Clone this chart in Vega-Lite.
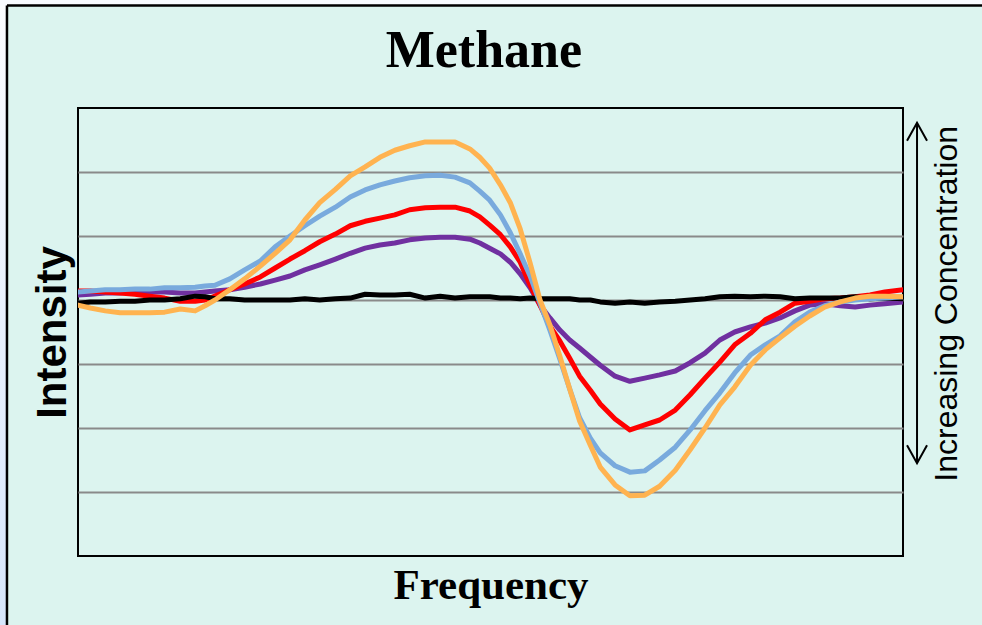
{
"$schema": "https://vega.github.io/schema/vega-lite/v6.json",
"width": 825,
"height": 448,
"autosize": {"type": "none"},
"padding": {"left": 78, "top": 108, "right": 79, "bottom": 69},
"background": "#dcf4ef",
"config": {"view": {"stroke": "#000000", "strokeWidth": 2, "fill": "#dcf4ef"}},
"datasets": {
"spectra": [
{"s":"purple","f":0,"v":0.8},{"s":"purple","f":1.5,"v":0.9},{"s":"purple","f":3.3,"v":1.1},{"s":"purple","f":5.1,"v":1.1},{"s":"purple","f":6.9,"v":1.25},{"s":"purple","f":8.7,"v":1.25},{"s":"purple","f":10.5,"v":1.25},{"s":"purple","f":12.4,"v":1.1},{"s":"purple","f":14.2,"v":1.1},{"s":"purple","f":15.4,"v":1.25},{"s":"purple","f":16.6,"v":1.4},{"s":"purple","f":18.4,"v":1.6},{"s":"purple","f":20.2,"v":2.0},{"s":"purple","f":22.1,"v":2.5},{"s":"purple","f":23.9,"v":3.1},{"s":"purple","f":25.7,"v":3.75},{"s":"purple","f":27.5,"v":4.7},{"s":"purple","f":29.3,"v":5.5},{"s":"purple","f":31.2,"v":6.4},{"s":"purple","f":33,"v":7.3},{"s":"purple","f":34.8,"v":8.1},{"s":"purple","f":36.6,"v":8.6},{"s":"purple","f":38.4,"v":8.9},{"s":"purple","f":40.2,"v":9.4},{"s":"purple","f":42.1,"v":9.7},{"s":"purple","f":43.9,"v":9.8},{"s":"purple","f":45.7,"v":9.8},{"s":"purple","f":47.5,"v":9.5},{"s":"purple","f":48.7,"v":8.9},{"s":"purple","f":49.9,"v":8.1},{"s":"purple","f":51.2,"v":7.2},{"s":"purple","f":52.4,"v":5.9},{"s":"purple","f":53.6,"v":4.1},{"s":"purple","f":54.8,"v":1.9},{"s":"purple","f":56,"v":-0.8},{"s":"purple","f":57.2,"v":-2.8},{"s":"purple","f":58.4,"v":-4.7},{"s":"purple","f":59.6,"v":-6.25},{"s":"purple","f":60.8,"v":-7.5},{"s":"purple","f":62.1,"v":-8.9},{"s":"purple","f":63.3,"v":-10.2},{"s":"purple","f":65.1,"v":-11.9},{"s":"purple","f":66.9,"v":-12.7},{"s":"purple","f":68.7,"v":-12.2},{"s":"purple","f":70.5,"v":-11.7},{"s":"purple","f":72.4,"v":-11.1},{"s":"purple","f":74.2,"v":-9.8},{"s":"purple","f":76,"v":-8.3},{"s":"purple","f":77.8,"v":-6.25},{"s":"purple","f":79.6,"v":-5.0},{"s":"purple","f":81.5,"v":-4.2},{"s":"purple","f":83.3,"v":-3.6},{"s":"purple","f":85.1,"v":-2.8},{"s":"purple","f":86.9,"v":-1.7},{"s":"purple","f":88.7,"v":-0.8},{"s":"purple","f":90.5,"v":-0.6},{"s":"purple","f":92.4,"v":-0.9},{"s":"purple","f":94.2,"v":-1.1},{"s":"purple","f":96,"v":-0.8},{"s":"purple","f":97.8,"v":-0.6},{"s":"purple","f":100,"v":-0.3},
{"s":"red","f":0,"v":1.4},{"s":"red","f":1.5,"v":1.4},{"s":"red","f":3.3,"v":1.25},{"s":"red","f":5.1,"v":1.1},{"s":"red","f":6.9,"v":0.9},{"s":"red","f":8.7,"v":0.6},{"s":"red","f":10.5,"v":0.3},{"s":"red","f":12.4,"v":-0.2},{"s":"red","f":14.2,"v":-0.2},{"s":"red","f":15.4,"v":0},{"s":"red","f":16.6,"v":0.6},{"s":"red","f":18.4,"v":1.6},{"s":"red","f":20.2,"v":2.5},{"s":"red","f":22.1,"v":3.6},{"s":"red","f":23.9,"v":5.0},{"s":"red","f":25.7,"v":6.4},{"s":"red","f":27.5,"v":7.7},{"s":"red","f":29.3,"v":9.1},{"s":"red","f":31.2,"v":10.3},{"s":"red","f":33,"v":11.6},{"s":"red","f":34.8,"v":12.3},{"s":"red","f":36.6,"v":12.8},{"s":"red","f":38.4,"v":13.3},{"s":"red","f":40.2,"v":14.1},{"s":"red","f":42.1,"v":14.4},{"s":"red","f":43.9,"v":14.5},{"s":"red","f":45.7,"v":14.5},{"s":"red","f":47.5,"v":13.9},{"s":"red","f":48.7,"v":13.0},{"s":"red","f":49.9,"v":11.7},{"s":"red","f":51.2,"v":10.2},{"s":"red","f":52.4,"v":8.3},{"s":"red","f":53.6,"v":5.9},{"s":"red","f":54.8,"v":2.3},{"s":"red","f":56,"v":-0.8},{"s":"red","f":57.2,"v":-4.1},{"s":"red","f":58.4,"v":-6.4},{"s":"red","f":59.6,"v":-9.1},{"s":"red","f":60.8,"v":-11.9},{"s":"red","f":62.1,"v":-14.1},{"s":"red","f":63.3,"v":-16.25},{"s":"red","f":65.1,"v":-18.6},{"s":"red","f":66.9,"v":-20.3},{"s":"red","f":68.7,"v":-19.5},{"s":"red","f":70.5,"v":-18.75},{"s":"red","f":72.4,"v":-17.2},{"s":"red","f":74.2,"v":-14.8},{"s":"red","f":76,"v":-12.2},{"s":"red","f":77.8,"v":-9.7},{"s":"red","f":79.6,"v":-7.0},{"s":"red","f":81.5,"v":-5.2},{"s":"red","f":83.3,"v":-3.1},{"s":"red","f":85.1,"v":-1.9},{"s":"red","f":86.9,"v":-0.5},{"s":"red","f":88.7,"v":-0.2},{"s":"red","f":90.5,"v":0.2},{"s":"red","f":92.4,"v":0.3},{"s":"red","f":94.2,"v":0.5},{"s":"red","f":96,"v":0.8},{"s":"red","f":97.8,"v":1.25},{"s":"red","f":100,"v":1.6},
{"s":"black","f":0,"v":-0.5},{"s":"black","f":1.5,"v":-0.3},{"s":"black","f":3.3,"v":-0.3},{"s":"black","f":5.1,"v":-0.2},{"s":"black","f":6.9,"v":-0.2},{"s":"black","f":8.7,"v":0},{"s":"black","f":10.5,"v":0},{"s":"black","f":12.4,"v":0.2},{"s":"black","f":14.2,"v":0.6},{"s":"black","f":15.4,"v":0.5},{"s":"black","f":16.6,"v":0.2},{"s":"black","f":18.4,"v":0.2},{"s":"black","f":20.2,"v":0},{"s":"black","f":22.1,"v":0},{"s":"black","f":23.9,"v":0},{"s":"black","f":25.7,"v":0},{"s":"black","f":27.5,"v":0.2},{"s":"black","f":29.3,"v":0},{"s":"black","f":31.2,"v":0.2},{"s":"black","f":33,"v":0.3},{"s":"black","f":34.8,"v":0.9},{"s":"black","f":36.6,"v":0.8},{"s":"black","f":38.4,"v":0.8},{"s":"black","f":40.2,"v":0.9},{"s":"black","f":42.1,"v":0.3},{"s":"black","f":43.9,"v":0.6},{"s":"black","f":45.7,"v":0.3},{"s":"black","f":47.5,"v":0.5},{"s":"black","f":48.7,"v":0.5},{"s":"black","f":49.9,"v":0.5},{"s":"black","f":51.2,"v":0.3},{"s":"black","f":52.4,"v":0.3},{"s":"black","f":53.6,"v":0.2},{"s":"black","f":54.8,"v":0.3},{"s":"black","f":56,"v":0.2},{"s":"black","f":57.2,"v":0.2},{"s":"black","f":58.4,"v":0.2},{"s":"black","f":59.6,"v":0.2},{"s":"black","f":60.8,"v":0},{"s":"black","f":62.1,"v":0},{"s":"black","f":63.3,"v":-0.3},{"s":"black","f":65.1,"v":-0.5},{"s":"black","f":66.9,"v":-0.3},{"s":"black","f":68.7,"v":-0.5},{"s":"black","f":70.5,"v":-0.3},{"s":"black","f":72.4,"v":-0.2},{"s":"black","f":74.2,"v":0},{"s":"black","f":76,"v":0.2},{"s":"black","f":77.8,"v":0.5},{"s":"black","f":79.6,"v":0.6},{"s":"black","f":81.5,"v":0.5},{"s":"black","f":83.3,"v":0.6},{"s":"black","f":85.1,"v":0.5},{"s":"black","f":86.9,"v":0.2},{"s":"black","f":88.7,"v":0.3},{"s":"black","f":90.5,"v":0.3},{"s":"black","f":92.4,"v":0.3},{"s":"black","f":94.2,"v":0.5},{"s":"black","f":96,"v":0.2},{"s":"black","f":97.8,"v":0.3},{"s":"black","f":100,"v":0.2},
{"s":"blue","f":0,"v":1.25},{"s":"blue","f":1.5,"v":1.4},{"s":"blue","f":3.3,"v":1.6},{"s":"blue","f":5.1,"v":1.6},{"s":"blue","f":6.9,"v":1.7},{"s":"blue","f":8.7,"v":1.7},{"s":"blue","f":10.5,"v":1.9},{"s":"blue","f":12.4,"v":1.9},{"s":"blue","f":14.2,"v":2.0},{"s":"blue","f":15.4,"v":2.2},{"s":"blue","f":16.6,"v":2.3},{"s":"blue","f":18.4,"v":3.3},{"s":"blue","f":20.2,"v":4.7},{"s":"blue","f":22.1,"v":6.1},{"s":"blue","f":23.9,"v":8.3},{"s":"blue","f":25.7,"v":10.0},{"s":"blue","f":27.5,"v":11.6},{"s":"blue","f":29.3,"v":13.1},{"s":"blue","f":31.2,"v":14.5},{"s":"blue","f":33,"v":16.1},{"s":"blue","f":34.8,"v":17.2},{"s":"blue","f":36.6,"v":18.0},{"s":"blue","f":38.4,"v":18.6},{"s":"blue","f":40.2,"v":19.1},{"s":"blue","f":42.1,"v":19.4},{"s":"blue","f":43.9,"v":19.5},{"s":"blue","f":45.7,"v":19.2},{"s":"blue","f":47.5,"v":18.3},{"s":"blue","f":48.7,"v":17.0},{"s":"blue","f":49.9,"v":15.6},{"s":"blue","f":51.2,"v":13.3},{"s":"blue","f":52.4,"v":10.5},{"s":"blue","f":53.6,"v":7.2},{"s":"blue","f":54.8,"v":3.75},{"s":"blue","f":56,"v":-0.5},{"s":"blue","f":57.2,"v":-4.7},{"s":"blue","f":58.4,"v":-9.2},{"s":"blue","f":59.6,"v":-13.9},{"s":"blue","f":60.8,"v":-18.4},{"s":"blue","f":62.1,"v":-21.6},{"s":"blue","f":63.3,"v":-23.9},{"s":"blue","f":65.1,"v":-25.9},{"s":"blue","f":66.9,"v":-26.9},{"s":"blue","f":68.7,"v":-26.7},{"s":"blue","f":70.5,"v":-25.0},{"s":"blue","f":72.4,"v":-23.0},{"s":"blue","f":74.2,"v":-20.3},{"s":"blue","f":76,"v":-17.3},{"s":"blue","f":77.8,"v":-14.5},{"s":"blue","f":79.6,"v":-11.4},{"s":"blue","f":81.5,"v":-8.6},{"s":"blue","f":83.3,"v":-7.0},{"s":"blue","f":85.1,"v":-5.6},{"s":"blue","f":86.9,"v":-3.4},{"s":"blue","f":88.7,"v":-1.9},{"s":"blue","f":90.5,"v":-0.9},{"s":"blue","f":92.4,"v":-0.3},{"s":"blue","f":94.2,"v":0},{"s":"blue","f":96,"v":0.2},{"s":"blue","f":97.8,"v":0.3},{"s":"blue","f":100,"v":0.5},
{"s":"orange","f":0,"v":-0.8},{"s":"orange","f":1.5,"v":-1.25},{"s":"orange","f":3.3,"v":-1.7},{"s":"orange","f":5.1,"v":-2.0},{"s":"orange","f":6.9,"v":-2.0},{"s":"orange","f":8.7,"v":-2.0},{"s":"orange","f":10.5,"v":-1.9},{"s":"orange","f":12.4,"v":-1.4},{"s":"orange","f":14.2,"v":-1.7},{"s":"orange","f":15.4,"v":-0.9},{"s":"orange","f":16.6,"v":0},{"s":"orange","f":18.4,"v":1.6},{"s":"orange","f":20.2,"v":3.3},{"s":"orange","f":22.1,"v":5.3},{"s":"orange","f":23.9,"v":7.3},{"s":"orange","f":25.7,"v":9.4},{"s":"orange","f":27.5,"v":12.5},{"s":"orange","f":29.3,"v":15.2},{"s":"orange","f":31.2,"v":17.3},{"s":"orange","f":33,"v":19.4},{"s":"orange","f":34.8,"v":20.8},{"s":"orange","f":36.6,"v":22.3},{"s":"orange","f":38.4,"v":23.4},{"s":"orange","f":40.2,"v":24.1},{"s":"orange","f":42.1,"v":24.7},{"s":"orange","f":43.9,"v":24.7},{"s":"orange","f":45.7,"v":24.7},{"s":"orange","f":47.5,"v":23.6},{"s":"orange","f":48.7,"v":22.3},{"s":"orange","f":49.9,"v":20.6},{"s":"orange","f":51.2,"v":18.0},{"s":"orange","f":52.4,"v":15.2},{"s":"orange","f":53.6,"v":11.1},{"s":"orange","f":54.8,"v":5.8},{"s":"orange","f":56,"v":0},{"s":"orange","f":57.2,"v":-3.9},{"s":"orange","f":58.4,"v":-8.75},{"s":"orange","f":59.6,"v":-13.9},{"s":"orange","f":60.8,"v":-18.9},{"s":"orange","f":62.1,"v":-22.7},{"s":"orange","f":63.3,"v":-26.1},{"s":"orange","f":65.1,"v":-28.9},{"s":"orange","f":66.9,"v":-30.6},{"s":"orange","f":68.7,"v":-30.5},{"s":"orange","f":70.5,"v":-29.1},{"s":"orange","f":72.4,"v":-26.6},{"s":"orange","f":74.2,"v":-23.4},{"s":"orange","f":76,"v":-20.0},{"s":"orange","f":77.8,"v":-16.4},{"s":"orange","f":79.6,"v":-13.6},{"s":"orange","f":81.5,"v":-10.2},{"s":"orange","f":83.3,"v":-7.8},{"s":"orange","f":85.1,"v":-5.9},{"s":"orange","f":86.9,"v":-4.1},{"s":"orange","f":88.7,"v":-2.5},{"s":"orange","f":90.5,"v":-1.1},{"s":"orange","f":92.4,"v":-0.3},{"s":"orange","f":94.2,"v":0.3},{"s":"orange","f":96,"v":0.6},{"s":"orange","f":97.8,"v":0.6},{"s":"orange","f":100,"v":0.5}
]
},
"encoding": {
"x": {"field": "f", "type": "quantitative", "scale": {"domain": [0, 100], "nice": false, "zero": false},
"axis": {"title": "Frequency", "labels": false, "ticks": false, "domain": false, "grid": false, "titleFont": "Liberation Serif", "titleFontWeight": "bold", "titleFontSize": 43, "titleColor": "#000000", "titlePadding": 42, "titleBaseline": "alphabetic"}},
"y": {"field": "v", "type": "quantitative", "scale": {"domain": [-40, 30], "nice": false, "zero": false},
"axis": {"title": "Intensity", "labels": false, "ticks": false, "domain": false, "grid": true, "gridColor": "#8a8a8a", "gridWidth": 2, "values": [-30, -20, -10, 0, 10, 20], "titleFont": "Liberation Sans", "titleFontWeight": "bold", "titleFontSize": 42, "titleColor": "#000000", "titlePadding": 13, "titleBaseline": "alphabetic"}}
},
"layer": [
{
"data": {"values": [{"f": -9.6, "f2": -8.61, "v": 47, "v2": -60}]},
"mark": {"type": "rect", "clip": false, "fill": {"gradient": "linear", "x1": 0, "y1": 0, "x2": 0, "y2": 1, "stops": [{"offset": 0, "color": "#fbfdff"}, {"offset": 1, "color": "#d3e4fb"}]}},
"encoding": {"x2": {"field": "f2"}, "y2": {"field": "v2"}}
},
{
"data": {"values": [{"f": -9.6, "f2": 120, "v": 47, "v2": 46.02}]},
"mark": {"type": "rect", "clip": false, "fill": "#f8fbff"},
"encoding": {"x2": {"field": "f2"}, "y2": {"field": "v2"}}
},
{
"data": {"values": [{"f": -8.61, "v": 46.02, "v2": -60}]},
"mark": {"type": "rule", "clip": false, "stroke": "#000000", "strokeWidth": 2.5},
"encoding": {"y2": {"field": "v2"}}
},
{
"data": {"values": [{"f": -8.61, "f2": 120, "v": 46.02}]},
"mark": {"type": "rule", "clip": false, "stroke": "#000000", "strokeWidth": 2.5},
"encoding": {"x2": {"field": "f2"}}
},
{
"data": {"name": "spectra"},
"mark": {"type": "line", "clip": true, "strokeJoin": "round", "strokeCap": "round"},
"encoding": {
"color": {"field": "s", "type": "nominal", "scale": {"domain": ["purple", "red", "black", "blue", "orange"], "range": ["#7030a0", "#ff0000", "#000000", "#79aadd", "#ffb350"]}, "legend": null},
"strokeWidth": {"field": "s", "type": "ordinal", "scale": {"domain": ["purple", "red", "black", "blue", "orange"], "range": [5, 5, 3.8, 5, 5]}, "legend": null}
}
},
{
"data": {"values": [{"f": 101.7, "v": 27.7, "v2": -25.5}]},
"mark": {"type": "rule", "clip": false, "stroke": "#000000", "strokeWidth": 2},
"encoding": {"y2": {"field": "v2"}}
},
{
"data": {"values": [{"f": 101.7, "v": 27.7}]},
"mark": {"type": "point", "clip": false, "filled": false, "stroke": "#000000", "strokeWidth": 2, "opacity": 1, "size": 400, "shape": "M-1,1.8L0,0L1,1.8"}
},
{
"data": {"values": [{"f": 101.7, "v": -25.5}]},
"mark": {"type": "point", "clip": false, "filled": false, "stroke": "#000000", "strokeWidth": 2, "opacity": 1, "size": 400, "shape": "M-1,-1.8L0,0L1,-1.8"}
},
{
"data": {"values": [{"f": 106.5, "v": -0.6, "t": "Increasing Concentration"}]},
"mark": {"type": "text", "clip": false, "angle": 270, "align": "center", "baseline": "alphabetic", "font": "Liberation Sans", "fontSize": 32, "color": "#000000"},
"encoding": {"text": {"field": "t", "type": "nominal"}}
},
{
"data": {"values": [{"f": 49.2, "v": 36.4, "t": "Methane"}]},
"mark": {"type": "text", "clip": false, "align": "center", "baseline": "alphabetic", "font": "Liberation Serif", "fontWeight": "bold", "fontSize": 52, "color": "#000000"},
"encoding": {"text": {"field": "t", "type": "nominal"}}
}
]
}
